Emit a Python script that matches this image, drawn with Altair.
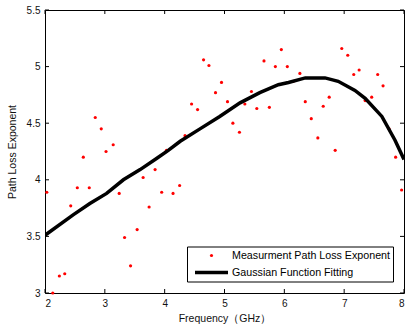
import altair as alt
import pandas as pd

freq = [2.03, 2.13, 2.24, 2.33, 2.43, 2.54, 2.64, 2.74, 2.84, 2.94,
        3.02, 3.14, 3.24, 3.33, 3.43, 3.54, 3.64, 3.74, 3.84, 3.95,
        4.03, 4.14, 4.25, 4.34, 4.45, 4.55, 4.65, 4.74, 4.85, 4.95,
        5.05, 5.14, 5.25, 5.34, 5.45, 5.54, 5.66, 5.75, 5.85, 5.95,
        6.05, 6.15, 6.26, 6.35, 6.45, 6.56, 6.65, 6.75, 6.85, 6.96,
        7.06, 7.16, 7.25, 7.35, 7.46, 7.56, 7.65, 7.75, 7.86, 7.96]
ple = [3.89, 3.00, 3.15, 3.17, 3.77, 3.93, 4.20, 3.93, 4.55, 4.45,
       4.25, 4.31, 3.88, 3.49, 3.24, 3.56, 4.02, 3.76, 4.09, 3.89,
       4.26, 3.88, 3.95, 4.39, 4.67, 4.62, 5.06, 5.01, 4.77, 4.86,
       4.69, 4.50, 4.42, 4.67, 4.78, 4.63, 5.05, 4.64, 5.00, 5.15,
       5.00, 4.87, 4.94, 4.69, 4.54, 4.37, 4.65, 4.73, 4.26, 5.16,
       5.10, 4.93, 4.97, 4.70, 4.73, 4.93, 4.83, 4.45, 4.20, 3.91]

# Gaussian fitting curve
fit_freq = [2.00, 2.47, 2.75, 3.03, 3.31, 3.59, 3.87, 4.06, 4.26, 4.59,
            4.92, 5.26, 5.59, 5.90, 6.07, 6.35, 6.68, 6.90, 7.18, 7.35,
            7.63, 7.85, 8.00]
fit_ple = [3.51, 3.69, 3.79, 3.88, 4.00, 4.09, 4.19, 4.26, 4.34, 4.45,
           4.56, 4.68, 4.77, 4.84, 4.86, 4.90, 4.90, 4.87, 4.79, 4.72,
           4.56, 4.35, 4.18]

series_names = ["Measurment Path Loss Exponent", "Gaussian Function Fitting"]
x_ticks = [2, 3, 4, 5, 6, 7, 8]
y_ticks = [3, 3.5, 4, 4.5, 5, 5.5]

meas = pd.DataFrame({"freq": freq, "ple": ple, "series": series_names[0]})
fit = pd.DataFrame({"freq": fit_freq, "ple": fit_ple, "series": series_names[1]})
xt = pd.DataFrame({"freq": x_ticks})
yt = pd.DataFrame({"ple": y_ticks})

W, H = 359, 283
FONT = "Liberation Sans"

xscale = alt.Scale(domain=[2, 8], nice=False, zero=False)
yscale = alt.Scale(domain=[3, 5.5], nice=False, zero=False)

x_enc = alt.X("freq:Q", scale=xscale, title="Frequency（GHz）",
              axis=alt.Axis(values=x_ticks, format="~g", grid=False, domain=False,
                            ticks=False, labelPadding=5, titlePadding=5))
y_enc = alt.Y("ple:Q", scale=yscale, title="Path Loss Exponent",
              axis=alt.Axis(values=y_ticks, format="~g", grid=False, domain=False,
                            ticks=False, labelPadding=5, titlePadding=9))

leg = alt.Legend(title=None, orient="none", legendX=142, legendY=236.5,
                 fillColor="white", strokeColor="black", padding=2,
                 labelFont=FONT, labelFontSize=10.7, labelColor="black",
                 labelLimit=0, clipHeight=14, rowPadding=3, labelOffset=2,
                 symbolOffset=4)

dom = series_names
points = alt.Chart(meas).mark_point(filled=True, opacity=1).encode(
    x=x_enc,
    y=y_enc,
    fill=alt.Fill("series:N", scale=alt.Scale(domain=dom, range=["#ff0000", "#000000"]), legend=leg),
    stroke=alt.Stroke("series:N", scale=alt.Scale(domain=dom, range=["#ff0000", "#000000"]), legend=leg),
    shape=alt.Shape("series:N", scale=alt.Scale(domain=dom, range=["circle", "stroke"]), legend=leg),
    size=alt.Size("series:N", scale=alt.Scale(domain=dom, range=[10, 1089]), legend=leg),
    strokeWidth=alt.StrokeWidth("series:N", scale=alt.Scale(domain=dom, range=[0, 3.5]), legend=leg),
)

line = alt.Chart(fit).mark_line(strokeWidth=3.5, clip=True).encode(
    x=alt.X("freq:Q"),
    y=alt.Y("ple:Q"),
    stroke=alt.Stroke("series:N", scale=alt.Scale(domain=dom, range=["#ff0000", "#000000"]), legend=leg),
)

TL = 4
tick_b = alt.Chart(xt).mark_rule(color="black", strokeWidth=1).encode(
    x="freq:Q", y=alt.value(H), y2=alt.value(H - TL))
tick_t = alt.Chart(xt).mark_rule(color="black", strokeWidth=1).encode(
    x="freq:Q", y=alt.value(0), y2=alt.value(TL))
tick_l = alt.Chart(yt).mark_rule(color="black", strokeWidth=1).encode(
    y="ple:Q", x=alt.value(0), x2=alt.value(TL))
tick_r = alt.Chart(yt).mark_rule(color="black", strokeWidth=1).encode(
    y="ple:Q", x=alt.value(W), x2=alt.value(W - TL))

chart = alt.layer(points, line, tick_b, tick_t, tick_l, tick_r).properties(
    width=W, height=H,
    autosize=alt.AutoSizeParams(type="none"),
    padding={"left": 45, "top": 10, "right": 1, "bottom": 35},
    background="white",
).configure_view(
    stroke="black", strokeWidth=1
).configure_axis(
    labelFont=FONT, labelFontSize=10, labelColor="#111",
    titleFont=FONT, titleFontSize=10.5, titleColor="#111", titleFontWeight="normal",
)

chart.save("out.html", embed_options={"renderer": "svg", "actions": False})
